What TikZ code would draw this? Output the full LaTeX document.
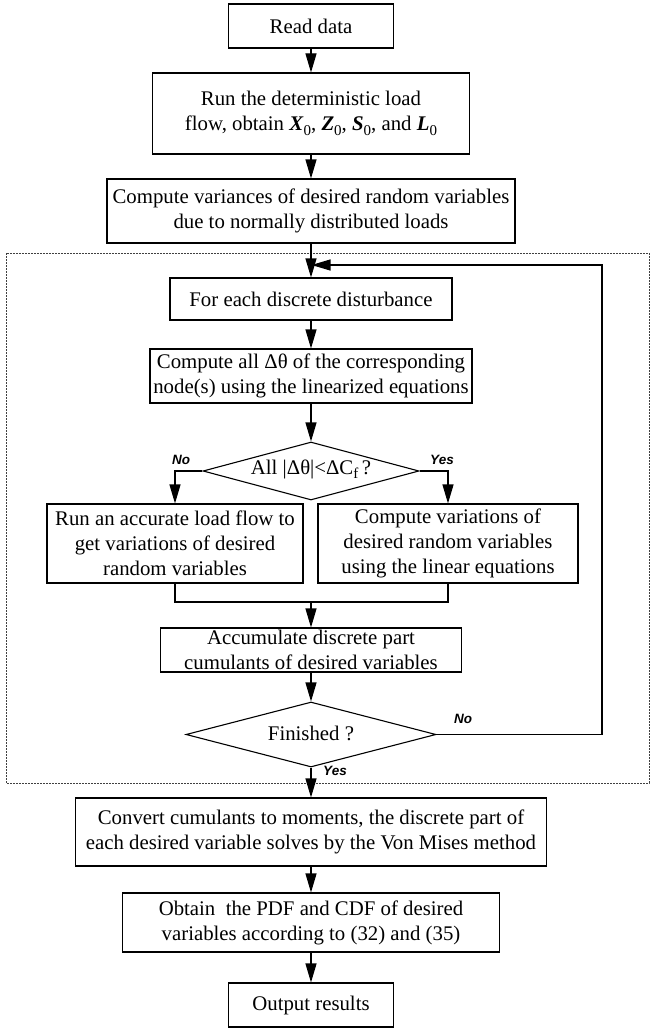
\documentclass[tikz,border=0pt]{standalone}
\usepackage{fontspec}
\setmainfont{Liberation Serif}
\newfontfamily\tagfont{Liberation Sans}
\usetikzlibrary{arrows.meta,shapes.geometric}
\newcommand\lowsub[1]{\raisebox{-0.45ex}{\fontsize{15}{15}\selectfont #1}}
\newcommand\bfvar[1]{\textbf{\textit{#1}}\lowsub{0}}

\begin{document}
\begin{tikzpicture}[x=1pt,y=-1pt,
  box/.style={draw, line width=1.1pt, align=center, inner sep=0pt, font=\fontsize{20.8}{25}\selectfont},
  txt/.style={align=center, inner sep=0pt, font=\fontsize{20.8}{25}\selectfont},
  dec/.style={draw, diamond, line width=1.1pt, inner sep=0pt},
  arr/.style={line width=1.1pt, -{Triangle[width=11pt,length=19pt]}},
  tag/.style={inner sep=0pt, font=\tagfont\bfseries\itshape\fontsize{13.5}{13.5}\selectfont}]
  \useasboundingbox (0,0) rectangle (651,1030);
  \draw[line width=0.8pt, black!75, dash pattern=on 2pt off 1pt] (6,253) rectangle (649,783);
  \node[box, minimum width=165, minimum height=44] (read) at (311,26) {Read data};
  \node[box, minimum width=317, minimum height=81] (flow) at (311,113.5)
    {Run the deterministic load\\flow, obtain \bfvar{X}, \bfvar{Z}, \bfvar{S}, and \bfvar{L}};
  \node[box, minimum width=408, minimum height=64] (var) at (311,211)
    {Compute variances of desired random variables\\due to normally distributed loads};
  \node[box, minimum width=282, minimum height=42] (each) at (311,299) {For each discrete disturbance};
  \node[box, minimum width=322, minimum height=54] (dtheta) at (311,376)
    {Compute all Δθ of the corresponding\\node(s) using the linearized equations};
  \node[dec, minimum width=216, minimum height=58] (check) at (311,471) {};
  \node[txt] (checktext) at (311,469) {All |Δθ|<ΔC\lowsub{f}\,?};
  \node[box, minimum width=256, minimum height=79] (accurate) at (175,543.5)
    {Run an accurate load flow to\\get variations of desired\\random variables};
  \node[box, minimum width=260, minimum height=79] (linear) at (448,543.5)
    {Compute variations of\\desired random variables\\using the linear equations};
  \node[box, minimum width=301, minimum height=44] (accum) at (311,650)
    {Accumulate discrete part\\cumulants of desired variables};
  \node[dec, minimum width=250, minimum height=65] (done) at (311,734.5) {};
  \node[txt] (donetext) at (311,733) {Finished ?};
  \node[box, minimum width=471, minimum height=68] (convert) at (311,832)
    {Convert cumulants to moments, the discrete part of\\each desired variable solves by the Von Mises method};
  \node[box, minimum width=377, minimum height=59] (pdf) at (311,922.5)
    {Obtain~ the PDF and CDF of desired\\variables according to (32) and (35)};
  \node[box, minimum width=165, minimum height=44] (output) at (311,1005) {Output results};
  \node[tag] (no1) at (181,460) {No};
  \node[tag] (yes1) at (442,460) {Yes};
  \node[tag] (no2) at (463,719) {No};
  \node[tag] (yes2) at (335,771) {Yes};
  \foreach \a/\b in {read/flow,flow/var,var/each,each/dtheta,dtheta/check,accum/done,done/convert,convert/pdf,pdf/output}
    \draw[arr] (\a.south) -- (\b.north);
  \draw[arr] (check.west) -| (accurate.north);
  \draw[arr] (check.east) -| (linear.north);
  \coordinate (merge) at (311,602);
  \draw[line width=1.1pt] (accurate.south) |- (merge) -| (linear.south);
  \draw[arr] (merge) -- (accum.north);
  \coordinate (back) at (602,265);
  \coordinate (join) at (311.5,265);
  \draw[arr] (done.east) -| (back) -- (join);
\end{tikzpicture}
\end{document}
